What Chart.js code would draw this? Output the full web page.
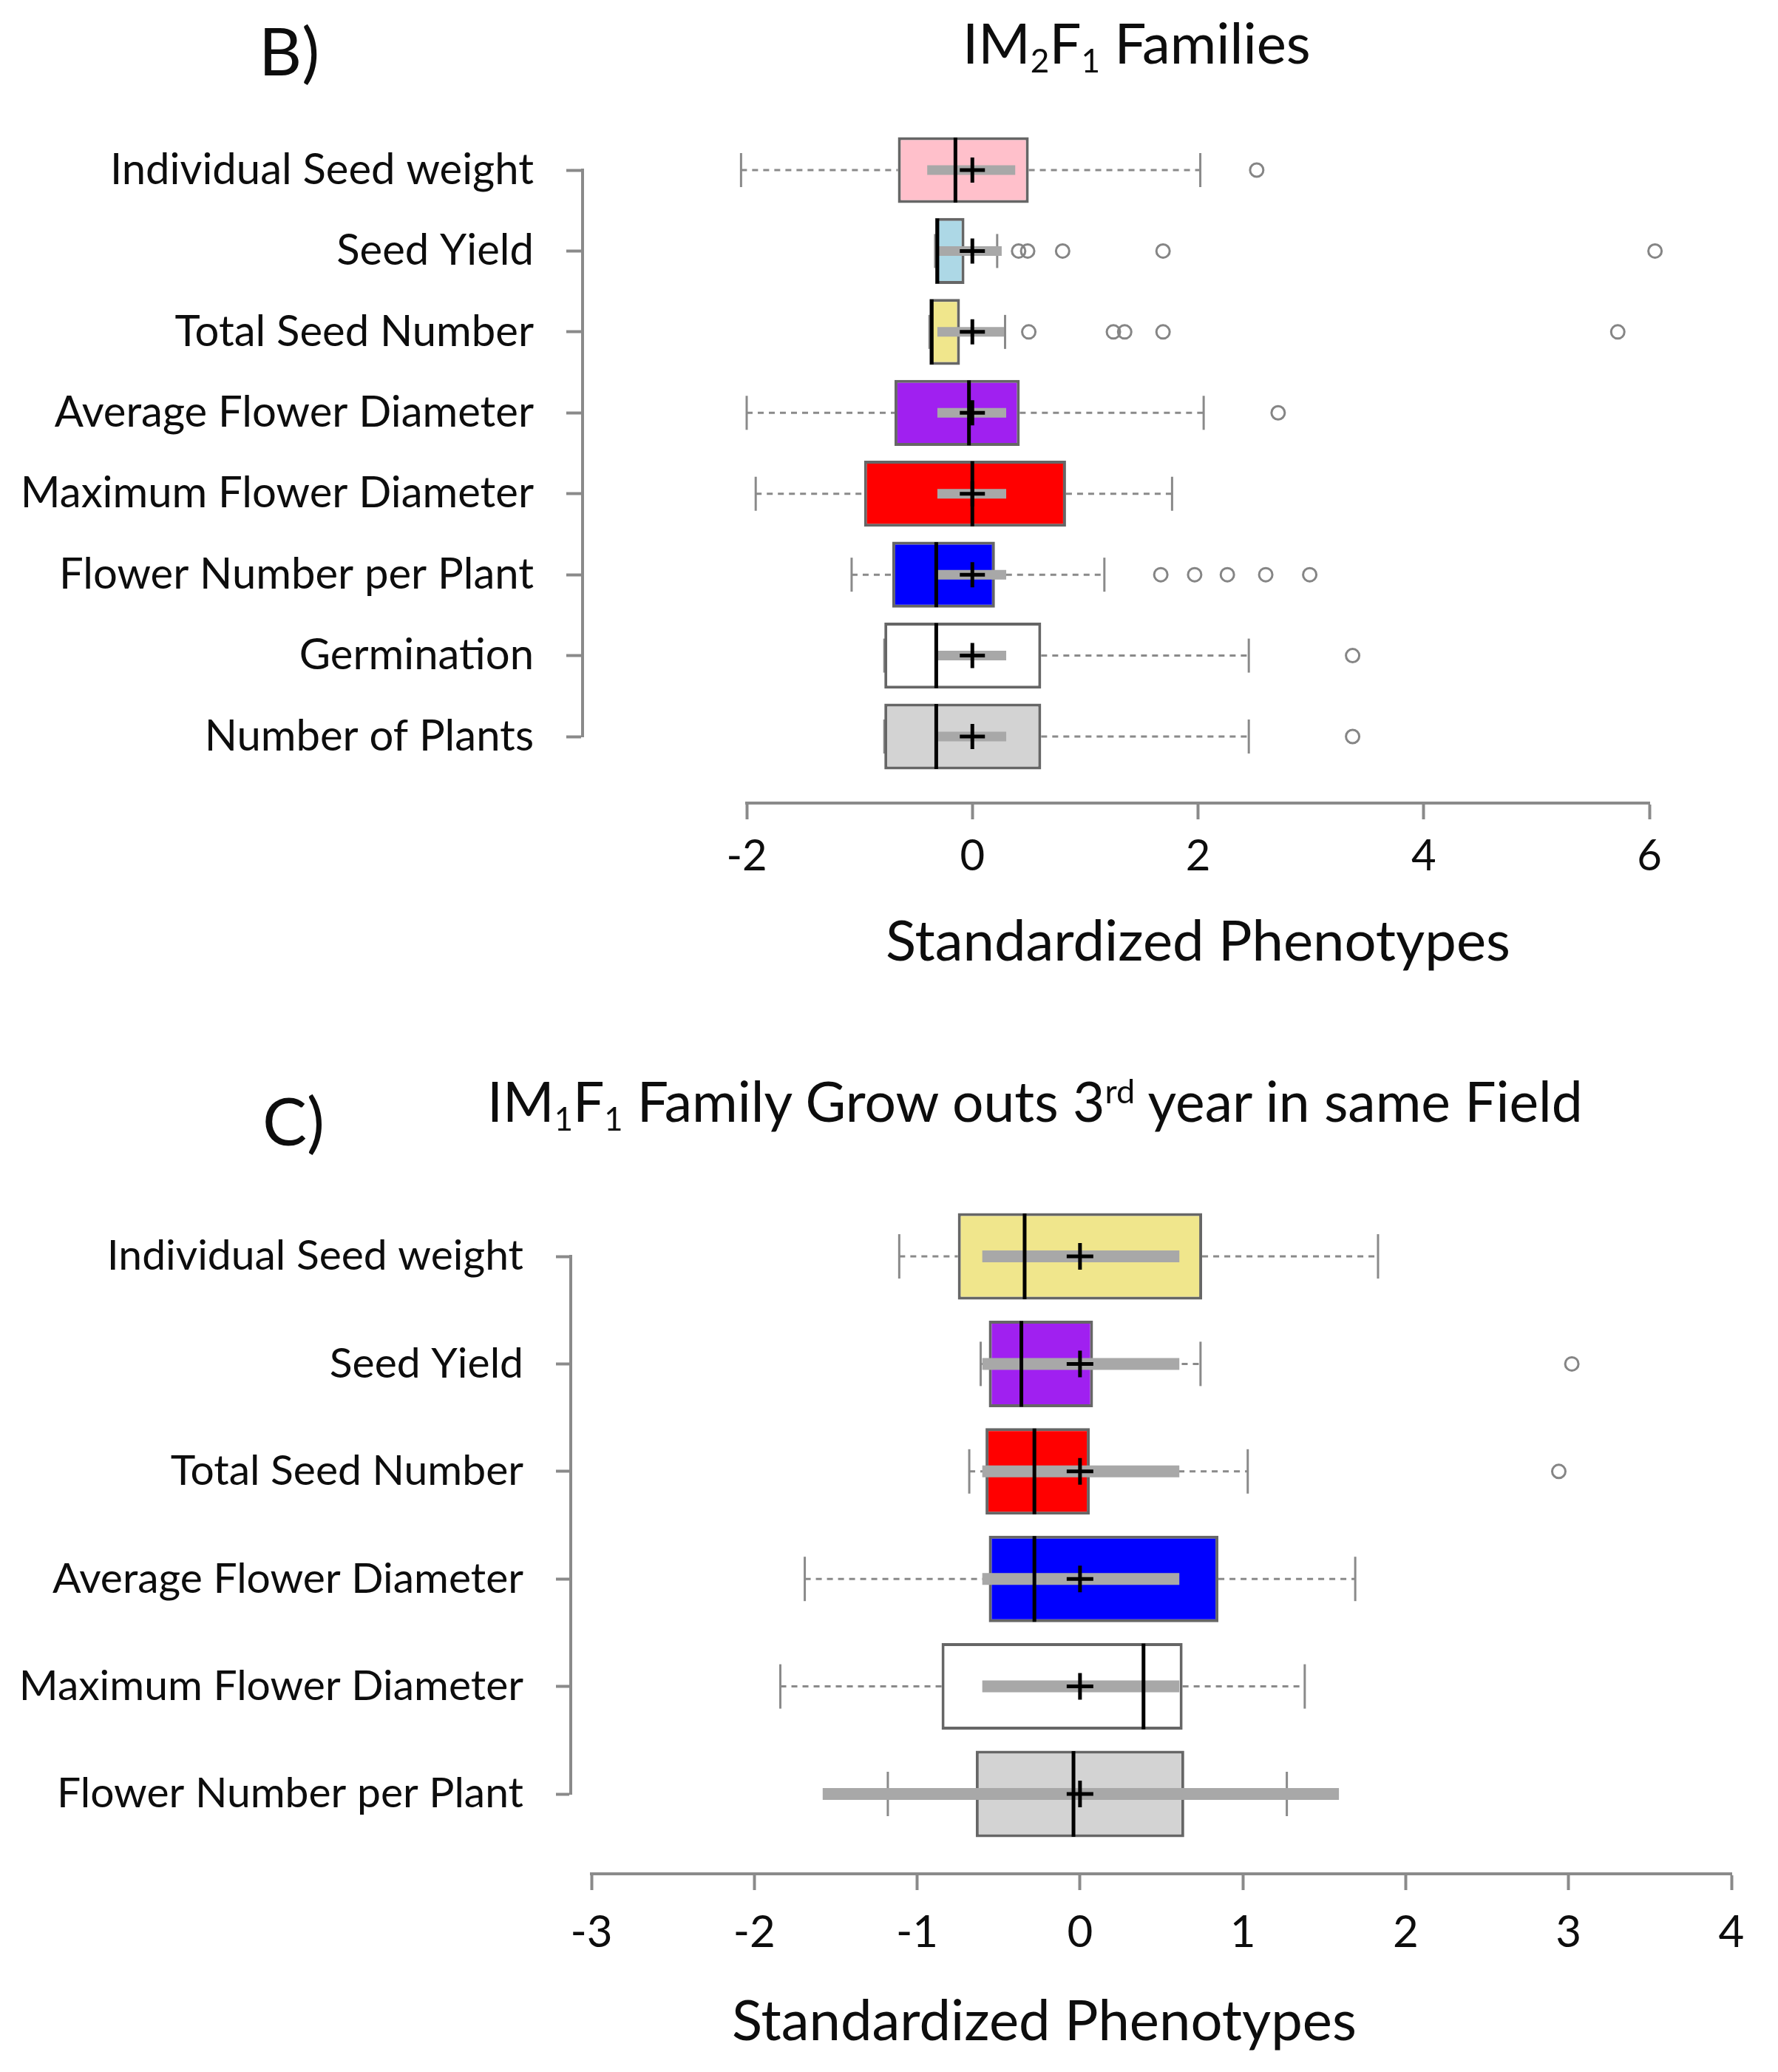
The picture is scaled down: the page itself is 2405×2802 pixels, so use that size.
<!DOCTYPE html>
<html><head><meta charset="utf-8">
<script src="https://cdn.jsdelivr.net/npm/chart.js@4.4.1/dist/chart.umd.min.js"></script>
<style>
html,body{margin:0;padding:0;background:#fff;}
body{width:2405px;height:2802px;position:relative;overflow:hidden;font-family:Lato,'Open Sans',sans-serif;color:#0d0d0d;}
.txt{position:absolute;white-space:nowrap;line-height:1;}
.txt sub{font-size:0.58em;vertical-align:-0.28em;line-height:0;}
.txt sup{font-size:0.6em;vertical-align:0.55em;line-height:0;}
canvas{position:absolute;left:0;}
</style></head><body>
<canvas id="cB" width="2405" height="1340" style="top:0;width:2405px;height:1340px"></canvas>
<canvas id="cC" width="2405" height="1422" style="top:1380px;width:2405px;height:1422px"></canvas>
<div class="txt" style="left:350px;top:22px;font-size:90px;">B)</div>
<div class="txt" style="left:1302px;top:19px;font-size:76px;">IM<sub>2</sub>F<sub>1</sub> Families</div>
<div class="txt" style="left:355px;top:1469px;font-size:90px;">C)</div>
<div class="txt" style="left:659px;top:1451px;font-size:75px;">IM<sub>1</sub>F<sub>1</sub> Family Grow outs 3<sup>rd</sup> year in same Field</div>
<script>
// ---------- Panel B data ----------
const catsB = ['Individual Seed weight','Seed Yield','Total Seed Number','Average Flower Diameter','Maximum Flower Diameter','Flower Number per Plant','Germination','Number of Plants'];
const wloB  = [-2.05, -0.33, -0.38, -2.00, -1.92, -1.07, -0.78, -0.78];
const q1B   = [-0.66, -0.33, -0.38, -0.69, -0.96, -0.71, -0.78, -0.78];
const medB  = [-0.15, -0.31, -0.36, -0.03,  0.00, -0.32, -0.32, -0.32];
const q3B   = [ 0.50, -0.07, -0.11,  0.42,  0.83,  0.20,  0.61,  0.61];
const whiB  = [ 2.02,  0.22,  0.29,  2.05,  1.77,  1.17,  2.45,  2.45];
const meanB = [0, 0, 0, 0, 0, 0, 0, 0];
const ciLoB = [-0.40, -0.30, -0.31, -0.31, -0.31, -0.31, -0.31, -0.31];
const ciHiB = [ 0.38,  0.26,  0.28,  0.30,  0.30,  0.30,  0.30,  0.30];
const outB  = [[2.52],[0.41,0.49,0.80,1.69,6.05],[0.50,1.25,1.35,1.69,5.72],[2.71],[],[1.67,1.97,2.26,2.60,2.99],[3.37],[3.37]];
const ticksB = [-2, 0, 2, 4, 6];
const fillB = ['#FFC0CB','#ADD8E6','#F0E68C','#A020F0','#FF0000','#0000FF','#FFFFFF','#D3D3D3'];

// ---------- Panel C data ----------
const catsC = ['Individual Seed weight','Seed Yield','Total Seed Number','Average Flower Diameter','Maximum Flower Diameter','Flower Number per Plant'];
const wloC  = [-1.11, -0.61, -0.68, -1.69, -1.84, -1.18];
const q1C   = [-0.75, -0.56, -0.58, -0.56, -0.85, -0.64];
const medC  = [-0.34, -0.36, -0.28, -0.28,  0.39, -0.04];
const q3C   = [ 0.75,  0.08,  0.06,  0.85,  0.63,  0.64];
const whiC  = [ 1.83,  0.74,  1.03,  1.69,  1.38,  1.27];
const meanC = [0, 0, 0, 0, 0, 0];
const ciLoC = [-0.60, -0.60, -0.60, -0.60, -0.60, -1.58];
const ciHiC = [ 0.61,  0.61,  0.61,  0.61,  0.61,  1.59];
const outC  = [[],[3.02],[2.94],[],[],[]];
const ticksC = [-3, -2, -1, 0, 1, 2, 3, 4];
const fillC = ['#F0E68C','#A020F0','#FF0000','#0000FF','#FFFFFF','#D3D3D3'];

const xTitle = 'Standardized Phenotypes';
const AX = '#8a8a8a';
const TXT = '#0d0d0d';

function buildBoxChart(id, d, L) {
  const cats = d.cats;
  const boxData = cats.map((c,i) => [d.q1[i], d.q3[i]]);
  const whiskerPts = [];
  cats.forEach((c,i) => {
    whiskerPts.push({x:d.wlo[i], y:c}, {x:d.q1[i], y:c}, {x:null, y:c},
                    {x:d.q3[i], y:c}, {x:d.whi[i], y:c}, {x:null, y:c});
  });
  const capPts = cats.flatMap((c,i) => [{x:d.wlo[i], y:c}, {x:d.whi[i], y:c}]);
  const ciPts = cats.flatMap((c,i) => [{x:d.ciLo[i], y:c}, {x:d.ciHi[i], y:c}, {x:null, y:c}]);
  const medPts = cats.map((c,i) => ({x:d.med[i], y:c}));
  const meanPts = cats.map((c,i) => ({x:d.mean[i], y:c}));
  const outPts = cats.flatMap((c,i) => d.out[i].map(v => ({x:v, y:c})));
  const common = {xAxisID:'x', yAxisID:'y', clip:false};

  return new Chart(document.getElementById(id), {
    type: 'bar',
    data: {
      labels: cats,
      datasets: [
        Object.assign({type:'scatter', label:'mean', data:meanPts, order:0,
          pointStyle:'cross', pointRadius:L.crossR, pointBorderWidth:5, borderColor:'#000', backgroundColor:'#000'}, common),
        Object.assign({type:'scatter', label:'median', data:medPts, order:1,
          pointStyle:'line', rotation:90, pointRadius:L.medR, pointBorderWidth:5, borderColor:'#000', backgroundColor:'#000'}, common),
        Object.assign({type:'scatter', label:'ci', data:ciPts, order:2, showLine:true, spanGaps:false,
          pointRadius:0, borderColor:'#a8a8a8', borderWidth:L.ciW, borderCapStyle:'butt'}, common),
        Object.assign({type:'bar', label:'box', data:boxData, order:3,
          backgroundColor:d.fill, borderColor:'#666666', borderWidth:4, borderSkipped:false,
          categoryPercentage:1, barPercentage:L.barPct}, common),
        Object.assign({type:'scatter', label:'caps', data:capPts, order:4,
          pointStyle:'line', rotation:90, pointRadius:L.capR, pointBorderWidth:3, borderColor:AX, backgroundColor:AX}, common),
        Object.assign({type:'scatter', label:'outliers', data:outPts, order:4,
          pointStyle:'circle', pointRadius:9, pointBorderWidth:3, borderColor:'#858585', backgroundColor:'rgba(0,0,0,0)'}, common),
        Object.assign({type:'scatter', label:'whiskers', data:whiskerPts, order:5, showLine:true, spanGaps:false,
          pointRadius:0, borderColor:AX, borderWidth:3, borderDash:[8,7]}, common)
      ]
    },
    options: {
      indexAxis: 'y',
      responsive: false,
      animation: false,
      events: [],
      layout: {padding: {top:L.padTop, right:L.padRight, bottom:0, left:0}},
      plugins: {legend:{display:false}, tooltip:{enabled:false}},
      scales: {
        x: {
          type:'linear', position:'bottom', weight:1, min:d.ticks[0], max:d.ticks[d.ticks.length-1],
          afterBuildTicks: s => { s.ticks = d.ticks.map(v => ({value:v})); },
          ticks: {color:TXT, font:{family:'Lato', size:L.tickFont}, padding:L.xTickPad, maxRotation:0, autoSkip:false},
          grid: {drawOnChartArea:false, drawTicks:true, tickLength:22, tickColor:AX, tickWidth:4},
          border: {display:true, color:AX, width:4},
          title: {display:true, text:L.titlePrefix + xTitle, align:L.titleAlign, color:TXT,
                  font:{family:'Lato', size:L.titleFont}, padding:{top:0, bottom:L.titlePadB}},
          afterFit: s => { s.height = L.xH; }
        },
        xgap: {
          type:'linear', position:'bottom', weight:0, display:true,
          ticks:{display:false}, grid:{display:false}, border:{display:false},
          afterFit: s => { s.height = L.xGap; }
        },
        y: {
          type:'category', position:'left', weight:1, offset:false,
          ticks: {color:TXT, font:{family:'Lato', size:L.labFont}, padding:44, autoSkip:false},
          grid: {offset:false, drawOnChartArea:false, drawTicks:true, tickLength:L.yTick, tickColor:AX, tickWidth:4},
          border: {display:true, color:AX, width:4},
          afterFit: s => { s.width = L.yW; }
        },
        ygap: {
          type:'linear', position:'left', weight:0, display:true,
          ticks:{display:false}, grid:{display:false}, border:{display:false},
          afterFit: s => { s.width = L.yGap; }
        }
      }
    }
  });
}

buildBoxChart('cB',
  {cats:catsB, wlo:wloB, q1:q1B, med:medB, q3:q3B, whi:whiB, mean:meanB, ciLo:ciLoB, ciHi:ciHiB, out:outB, ticks:ticksB, fill:fillB},
  {padTop:230, padRight:174, xH:254, xGap:90, yW:788, yGap:222, yTick:22,
   barPct:0.815, medR:44, capR:23, crossR:17, ciW:13,
   tickFont:58, xTickPad:15, titleFont:76, titlePadB:20, titleAlign:'center', titlePrefix:'', labFont:58});

buildBoxChart('cC',
  {cats:catsC, wlo:wloC, q1:q1C, med:medC, q3:q3C, whi:whiC, mean:meanC, ciLo:ciLoC, ciHi:ciHiC, out:outC, ticks:ticksC, fill:fillC},
  {padTop:319, padRight:35, xH:268, xGap:108, yW:772, yGap:28, yTick:20,
   barPct:0.805, medR:58, capR:30, crossR:18, ciW:16,
   tickFont:60, xTickPad:22, titleFont:76, titlePadB:22, titleAlign:'start', titlePrefix:'\u2002\u2002\u2002\u2002\u2002', labFont:57});
</script>
</body></html>
